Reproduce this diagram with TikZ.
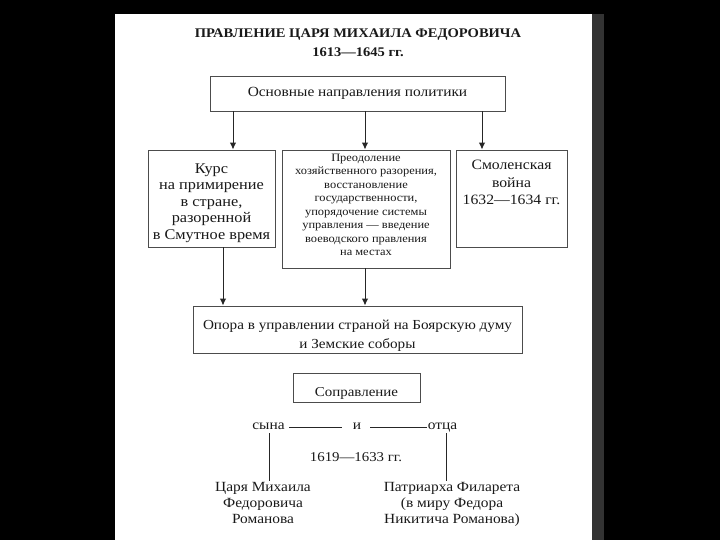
\documentclass[tikz,border=0pt]{standalone}
\usepackage{fontspec}
\setmainfont[FakeStretch=1.1]{Liberation Serif}
\usetikzlibrary{arrows.meta}
\begin{document}
\begin{tikzpicture}[x=1pt,y=-1pt,
  box/.style={draw=black!70,line width=0.9pt,fill=white,inner sep=2pt,align=center,text=black!90},
  conn/.style={draw=black!85,line width=1pt},
  arr/.style={conn,-{Latex[length=7pt,width=6.5pt]}},
  txt/.style={align=center,inner sep=1pt,text=black!90},
  word/.style={inner sep=0pt,anchor=base,text=black!90,font=\fontsize{14}{16}\selectfont}]
\useasboundingbox (0,0) rectangle (720,540);
\fill[black] (0,0) rectangle (720,540);
\fill[white] (115,14) rectangle (592,540);
\fill[black!80] (592,14) rectangle (604,540);
% title
\node[txt,font=\fontsize{13.2}{19}\selectfont\bfseries] (title) at (358,43) {ПРАВЛЕНИЕ ЦАРЯ МИХАИЛА ФЕДОРОВИЧА\\1613---1645 гг.};
% boxes
\node[box,minimum width=295,minimum height=35,font=\fontsize{14}{16}\selectfont] (b1) at (357.5,93.5) {Основные направления политики};
\node[box,minimum width=127,minimum height=97,font=\fontsize{14.8}{16.5}\selectfont] (b2) at (211.5,198.5) {Курс\\на примирение\\в стране,\\разоренной\\в Смутное время\\[-22.5pt]\mbox{}};
\node[box,minimum width=168,minimum height=118,font=\fontsize{11.3}{13.4}\selectfont] (b3) at (366,209) {Преодоление\\хозяйственного разорения,\\восстановление\\государственности,\\упорядочение системы\\управления --- введение\\воеводского правления\\на местах\\[-5pt]\mbox{}};
\node[box,minimum width=111,minimum height=97,font=\fontsize{14.3}{17.5}\selectfont] (b4) at (511.5,198.5) {Смоленская\\война\\1632---1634 гг.\\[14pt]\mbox{}};
\node[box,minimum width=329,minimum height=47,font=\fontsize{13.8}{19}\selectfont] (b5) at (357.5,329.5) {Опора в управлении страной на Боярскую думу\\и Земские соборы\\[-29pt]\mbox{}};
\node[box,minimum width=127,minimum height=29,font=\fontsize{13.6}{16}\selectfont] (b6) at (356.5,387.5) {Соправление\\[-24pt]\mbox{}};
% co-rule
\node[word] (son) at (268.5,429) {сына};
\node[word] (and) at (357,429) {и};
\node[word] (father) at (442.5,429) {отца};
\node[txt,font=\fontsize{13.5}{16}\selectfont] (years) at (356,457) {1619---1633 гг.};
\node[txt,anchor=north,font=\fontsize{14}{16}\selectfont] (tsar) at (263,481) {Царя Михаила\\Федоровича\\Романова};
\node[txt,anchor=north,font=\fontsize{14}{16}\selectfont] (patr) at (452,481) {Патриарха Филарета\\(в миру Федора\\Никитича Романова)};
% connectors
\coordinate (xa) at (233,0);
\coordinate (xb) at (365,0);
\coordinate (xc) at (482,0);
\coordinate (xd) at (223,0);
\coordinate (xl) at (269,0);
\coordinate (xr) at (446,0);
\coordinate (l1a) at (289,427);
\coordinate (l1b) at (342,427);
\coordinate (l2a) at (370,427);
\coordinate (l2b) at (427,427);
\coordinate (vtop) at (0,433);
\draw[arr] (b1.south -| xa) -- (b2.north -| xa);
\draw[arr] (b1.south -| xb) -- (b3.north -| xb);
\draw[arr] (b1.south -| xc) -- (b4.north -| xc);
\draw[arr] (b2.south -| xd) -- (b5.north -| xd);
\draw[arr] (b3.south -| xb) -- (b5.north -| xb);
\draw[conn] (l1a) -- (l1b);
\draw[conn] (l2a) -- (l2b);
\draw[conn] (vtop -| xl) -- (tsar.north -| xl);
\draw[conn] (vtop -| xr) -- (patr.north -| xr);
\end{tikzpicture}
\end{document}
